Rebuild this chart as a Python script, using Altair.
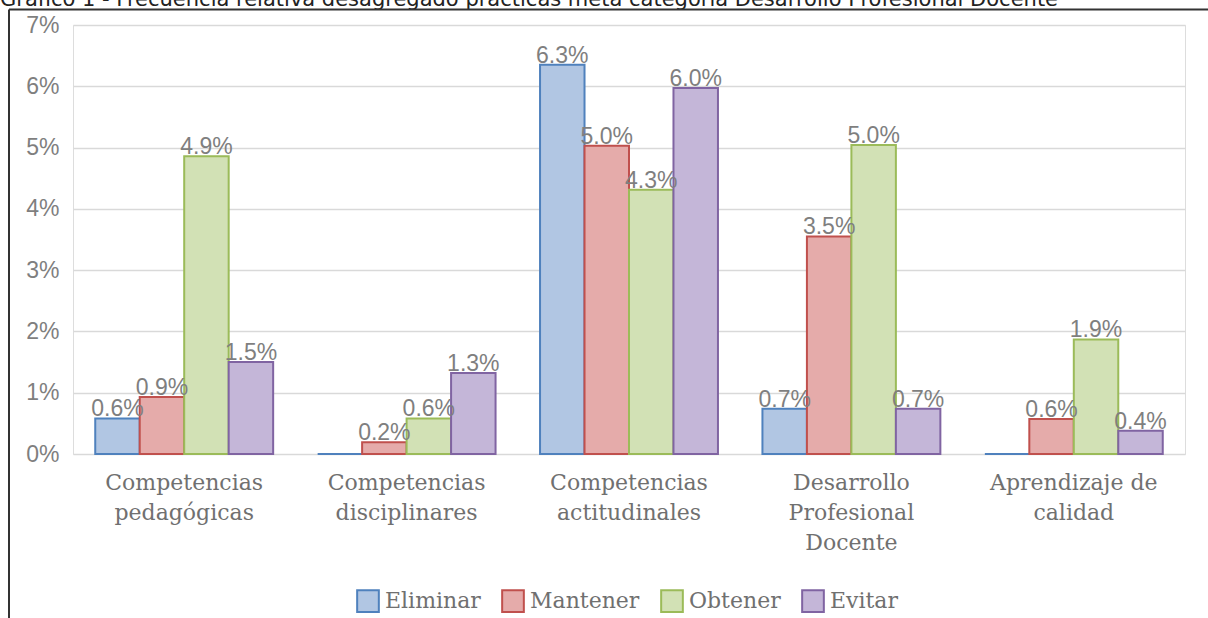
import altair as alt
import pandas as pd

title_text = ["Gráfico 1 - Frecuencia relativa desagregado prácticas meta categoría Desarrollo Profesional Docente"]
categories = [
    "Competencias\npedagógicas",
    "Competencias\ndisciplinares",
    "Competencias\nactitudinales",
    "Desarrollo\nProfesional\nDocente",
    "Aprendizaje de\ncalidad",
]
series = ["Eliminar", "Mantener", "Obtener", "Evitar"]
eliminar = [0.58, 0.0, 6.35, 0.74, 0.0]
mantener = [0.93, 0.19, 5.03, 3.55, 0.57]
obtener = [4.86, 0.58, 4.31, 5.04, 1.87]
evitar = [1.50, 1.32, 5.97, 0.74, 0.38]
y_ticks = [0, 1, 2, 3, 4, 5, 6, 7]

fills = ["#b1c6e3", "#e5abaa", "#d2e1b5", "#c4b6d8"]
strokes = ["#4f81bd", "#c0504d", "#9bbb59", "#8064a2"]

rows = []
for s, vals in zip(series, [eliminar, mantener, obtener, evitar]):
    for c, v in zip(categories, vals):
        rows.append({"cat": c, "serie": s, "val": v})
df = pd.DataFrame(rows)

x_enc = alt.X("cat:N", sort=categories, title=None,
              scale=alt.Scale(paddingInner=0.2, paddingOuter=0.1),
              axis=alt.Axis(labelAngle=0, domain=False, ticks=False,
                            labelFont="DejaVu Serif", labelFontSize=22,
                            labelColor="#707070", labelLineHeight=30,
                            labelPadding=18, labelBaseline="top",
                            labelExpr="split(datum.label, '\\n')"))
xo_enc = alt.XOffset("serie:N", sort=series, scale=alt.Scale(paddingInner=0, paddingOuter=0))
y_enc = alt.Y("val:Q", title=None,
              scale=alt.Scale(domain=[0, 7], nice=False),
              axis=alt.Axis(values=y_ticks, labelExpr="datum.value + '%'",
                            domain=False, ticks=False, grid=True,
                            gridColor="#d9d9d9", gridWidth=1.5,
                            labelFont="Liberation Sans", labelFontSize=23,
                            labelColor="#7f7f7f", labelPadding=14))

legend = alt.Legend(title=None, orient="none", direction="horizontal",
                    legendX=283, legendY=564, symbolType="square",
                    symbolSize=470, symbolStrokeWidth=2,
                    labelFont="DejaVu Serif", labelFontSize=22,
                    labelColor="#707070", labelOffset=5,
                    columnPadding=17)

bars = alt.Chart(df).mark_bar(strokeWidth=2).encode(
    x=x_enc,
    xOffset=xo_enc,
    y=y_enc,
    fill=alt.Fill("serie:N", sort=series, scale=alt.Scale(domain=series, range=fills),
                  legend=legend),
    stroke=alt.Stroke("serie:N", sort=series, scale=alt.Scale(domain=series, range=strokes),
                      legend=legend),
)

labels = alt.Chart(df).transform_filter("datum.val > 0").transform_calculate(
    lab="format(datum.val, '.1f') + '%'"
).mark_text(font="Liberation Sans", fontSize=23, color="#7f7f7f",
            baseline="alphabetic", dy=-2).encode(
    x=alt.X("cat:N", sort=categories),
    xOffset=alt.XOffset("serie:N", sort=series),
    y="val:Q",
    text="lab:N",
)

title_df = pd.DataFrame({"t": title_text})
title = alt.Chart(title_df).mark_text(font="DejaVu Sans", fontSize=21, color="#222222",
                                      align="left", baseline="alphabetic").encode(
    text="t:N", x=alt.value(-73), y=alt.value(-19))

top_line = alt.Chart(title_df).mark_rule(color="#333333", strokeWidth=2).encode(
    x=alt.value(-64), x2=alt.value(1135), y=alt.value(-15.5))
left_line = alt.Chart(title_df).mark_rule(color="#333333", strokeWidth=2).encode(
    x=alt.value(-64), y=alt.value(-15.5), y2=alt.value(600))

chart = alt.layer(bars, labels, title, top_line, left_line).properties(
    width=1112, height=429,
    padding={"left": 73, "top": 25, "right": 23, "bottom": 164},
    autosize=alt.AutoSizeParams(type="none"),
).configure_view(stroke=None).configure(background="white")

chart.save("out.html", embed_options={"renderer": "svg", "actions": False})
